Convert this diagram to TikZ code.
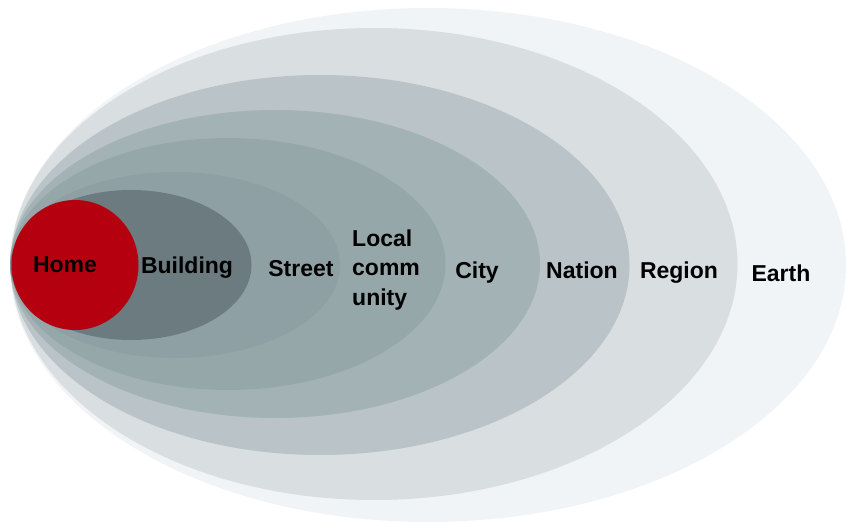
\documentclass[tikz,border=0pt]{standalone}
\usepackage{fontspec}
\setmainfont{Liberation Sans}
\usetikzlibrary{shapes.geometric}

\definecolor{earthc}{HTML}{F1F4F6}
\definecolor{regionc}{HTML}{D9DEE1}
\definecolor{nationc}{HTML}{BAC3C7}
\definecolor{cityc}{HTML}{A3B2B5}
\definecolor{communityc}{HTML}{96A7AA}
\definecolor{streetc}{HTML}{8FA0A4}
\definecolor{buildingc}{HTML}{6B7B80}
\definecolor{homec}{HTML}{B5000F}

\begin{document}
\begin{tikzpicture}[x=1pt, y=1pt,
  ring/.style={ellipse, draw=none, inner sep=0pt, outer sep=0pt},
  word/.style={font=\fontsize{23}{29.5}\selectfont\bfseries, inner sep=0pt}]
\useasboundingbox[fill=white] (0,0) rectangle (846,523);

\node[ring, fill=earthc, minimum width=836, minimum height=514] (earth) at (428,258) {};
\node[ring, fill=regionc, minimum width=727, minimum height=472] (region) at (374,259) {};
\node[ring, fill=nationc, minimum width=619, minimum height=380] (nation) at (320,258) {};
\node[ring, fill=cityc, minimum width=530, minimum height=308] (city) at (275,259) {};
\node[ring, fill=communityc, minimum width=435, minimum height=252] (community) at (228,259) {};
\node[ring, fill=streetc, minimum width=330, minimum height=186] (street) at (175,258) {};
\node[ring, fill=buildingc, minimum width=241, minimum height=150] (building) at (131,258) {};
\node[ring, fill=homec, minimum width=127, minimum height=130] (home) at (75,258) {};

\node[word, anchor=base] (homeL) at (65,251) {Home};
\node[word, anchor=base] (buildingL) at (187,250) {Building};
\node[word, anchor=base] (streetL) at (301,247) {Street};
\node[word, anchor=west, align=left] (communityL) at (352,253) {Local\\comm\\unity};
\node[word, anchor=base] (cityL) at (477,245) {City};
\node[word, anchor=base] (nationL) at (582,245) {Nation};
\node[word, anchor=base] (regionL) at (679,245) {Region};
\node[word, anchor=base] (earthL) at (781,242) {Earth};
\end{tikzpicture}
\end{document}
